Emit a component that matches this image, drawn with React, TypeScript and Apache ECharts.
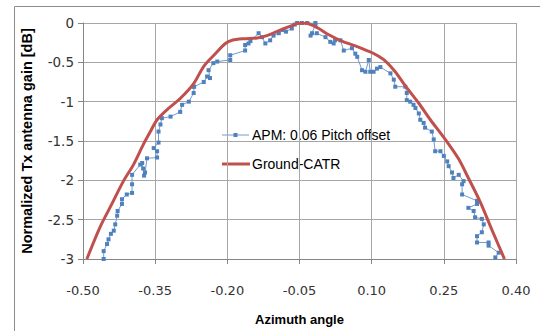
import React, { useEffect, useRef } from "react";
import * as echarts from "echarts";

const xTicks = { min: -0.5, max: 0.4, interval: 0.15 };
const yTicks = { min: -3, max: 0, interval: 0.5 };

const apmName = "APM: 0.06 Pitch offset";
const catrName = "Ground-CATR";

const apmX = [
  -0.457, -0.457, -0.45, -0.447, -0.442, -0.436, -0.433, -0.429, -0.428, -0.419, -0.419, -0.409, -0.398, -0.398, -0.398,
  -0.381, -0.377, -0.375, -0.373, -0.371, -0.367, -0.346, -0.346, -0.353, -0.343, -0.343, -0.339, -0.336, -0.318, -0.298,
  -0.294, -0.28, -0.27, -0.269, -0.27, -0.249, -0.242, -0.236, -0.239, -0.229, -0.221, -0.194, -0.194, -0.163, -0.163,
  -0.156, -0.152, -0.135, -0.128, -0.121, -0.111, -0.104, -0.093, -0.083, -0.078, -0.066, -0.06, -0.055, -0.045, -0.034,
  -0.017, -0.017, -0.024, -0.027, -0.014, 0.004, 0.014, 0.021, 0.024, 0.035, 0.042, 0.059, 0.066, 0.07, 0.08, 0.087,
  0.094, 0.097, 0.104, 0.111, 0.118, 0.139, 0.146, 0.149, 0.17, 0.173, 0.173, 0.18, 0.187, 0.191, 0.198, 0.201, 0.208,
  0.211, 0.225, 0.229, 0.232, 0.243, 0.25, 0.257, 0.26, 0.267, 0.27, 0.281, 0.291, 0.288, 0.288, 0.319, 0.319, 0.301,
  0.312, 0.315, 0.329, 0.333, 0.329, 0.319, 0.319, 0.343, 0.343, 0.364, 0.357,
];
const apmY = [
  -3.0, -2.9, -2.81, -2.75, -2.68, -2.64, -2.56, -2.45, -2.39, -2.3, -2.24, -2.18, -2.16, -2.05, -1.93,
  -1.8, -1.78, -1.85, -1.94, -1.9, -1.72, -1.71, -1.63, -1.59, -1.52, -1.38, -1.29, -1.21, -1.19, -1.13,
  -1.04, -1.0, -0.89, -0.81, -0.81, -0.75, -0.68, -0.7, -0.6, -0.51, -0.49, -0.47, -0.41, -0.35, -0.28,
  -0.26, -0.23, -0.13, -0.18, -0.26, -0.22, -0.16, -0.13, -0.09, -0.11, -0.07, -0.02, 0, 0, 0,
  0, -0.02, -0.13, -0.16, -0.13, -0.18, -0.24, -0.26, -0.22, -0.22, -0.35, -0.32, -0.39, -0.43, -0.6, -0.62,
  -0.47, -0.62, -0.62, -0.58, -0.56, -0.64, -0.72, -0.81, -0.81, -0.89, -0.98, -1.0, -1.04, -1.08, -1.15, -1.23, -1.27,
  -1.33, -1.38, -1.48, -1.63, -1.63, -1.69, -1.76, -1.82, -1.9, -1.97, -1.93, -2.01, -2.05, -2.18, -2.26, -2.3, -2.35,
  -2.39, -2.47, -2.49, -2.56, -2.66, -2.71, -2.79, -2.79, -2.83, -2.92, -2.98,
];

const catrX = [
  -0.492, -0.465, -0.44, -0.416, -0.395, -0.375, -0.36, -0.346, -0.325, -0.298, -0.27, -0.249, -0.225, -0.204, -0.19,
  -0.166, -0.138, -0.118, -0.09, -0.073, -0.048, -0.031, -0.01, 0.011, 0.038, 0.066, 0.09, 0.108, 0.128, 0.149, 0.17,
  0.198, 0.222, 0.253, 0.28, 0.301, 0.326, 0.35, 0.376,
];
const catrY = [
  -3.0, -2.6, -2.3, -2.01, -1.8, -1.55, -1.38, -1.23, -1.1, -0.96, -0.77, -0.55, -0.39, -0.26, -0.22,
  -0.2, -0.19, -0.16, -0.09, -0.05, 0, -0.01, -0.07, -0.15, -0.23, -0.29, -0.35, -0.4, -0.48, -0.62, -0.8,
  -1.02, -1.23, -1.48, -1.72, -1.97, -2.28, -2.63, -3.0,
];

const BLUE = "#4F81BD";
const RED = "#C0504D";
const GRID = "#a6a6a6";
const AXIS = "#868686";
const LABEL_FONT = "DejaVu Sans";
const TITLE_FONT = "Liberation Sans";

export default function App() {
  const ref = useRef<HTMLDivElement>(null);
  useEffect(() => {
    document.body.style.margin = "0";
    if (!ref.current) return;
    const chart = echarts.init(ref.current, undefined, { renderer: "svg" });
    const legendText = { fontFamily: TITLE_FONT, fontSize: 14, fill: "#000", verticalAlign: "middle" as const };
    chart.setOption({
      animation: false,
      backgroundColor: "#ffffff",
      graphic: [
        {
          type: "rect",
          shape: { x: 14.5, y: 6.5, width: 600, height: 400 },
          style: { fill: "none", stroke: "#8c8c8c", lineWidth: 1 },
          silent: true,
          z: -10,
        },
        {
          type: "group",
          z: 100,
          children: [
            { type: "line", shape: { x1: 222, y1: 135, x2: 249, y2: 135 }, style: { stroke: "#6f9bd0", lineWidth: 1 } },
            { type: "rect", shape: { x: 233.5, y: 133, width: 4, height: 4 }, style: { fill: BLUE } },
            { type: "text", x: 252, y: 135, style: { ...legendText, text: apmName } },
            { type: "line", shape: { x1: 222, y1: 164, x2: 250, y2: 164 }, style: { stroke: RED, lineWidth: 3 } },
            { type: "text", x: 252, y: 164, style: { ...legendText, text: catrName } },
          ],
        },
      ],
      grid: { left: 83, top: 23, width: 433, height: 237, containLabel: false },
      xAxis: {
        type: "value",
        min: xTicks.min,
        max: xTicks.max,
        interval: xTicks.interval,
        name: "Azimuth angle",
        nameLocation: "middle",
        nameGap: 54,
        nameTextStyle: { fontFamily: TITLE_FONT, fontWeight: "bold", fontSize: 13, color: "#000" },
        axisLine: { show: true, onZero: false, lineStyle: { color: AXIS, width: 1 } },
        axisTick: { show: true, length: 5, lineStyle: { color: AXIS } },
        axisLabel: {
          margin: 25,
          fontFamily: LABEL_FONT,
          fontSize: 13,
          color: "#333",
          formatter: (v: number) => v.toFixed(2),
        },
        splitLine: { show: true, lineStyle: { color: GRID, width: 1 } },
      },
      yAxis: {
        type: "value",
        min: yTicks.min,
        max: yTicks.max,
        interval: yTicks.interval,
        name: "Normalized Tx antenna gain [dB]",
        nameLocation: "middle",
        nameGap: 49,
        nameTextStyle: { fontFamily: TITLE_FONT, fontWeight: "bold", fontSize: 14.5, color: "#000" },
        axisLine: { show: true, onZero: false, lineStyle: { color: AXIS, width: 1 } },
        axisTick: { show: true, length: 5, lineStyle: { color: AXIS } },
        axisLabel: {
          margin: 9,
          fontFamily: LABEL_FONT,
          fontSize: 13.5,
          color: "#333",
        },
        splitLine: { show: true, lineStyle: { color: GRID, width: 1 } },
      },
      series: [
        {
          name: apmName,
          type: "line",
          data: apmX.map((x, i) => [x, apmY[i]]),
          symbol: "rect",
          symbolSize: 4,
          showSymbol: true,
          itemStyle: { color: BLUE },
          lineStyle: { color: "#6f9bd0", width: 1 },
          z: 2,
        },
        {
          name: catrName,
          type: "line",
          data: catrX.map((x, i) => [x, catrY[i]]),
          smooth: 0.3,
          symbol: "none",
          showSymbol: false,
          itemStyle: { color: RED },
          lineStyle: { color: RED, width: 3 },
          z: 3,
        },
      ],
    });
    return () => chart.dispose();
  }, []);
  return <div ref={ref} style={{ width: 540, height: 331 }} />;
}
